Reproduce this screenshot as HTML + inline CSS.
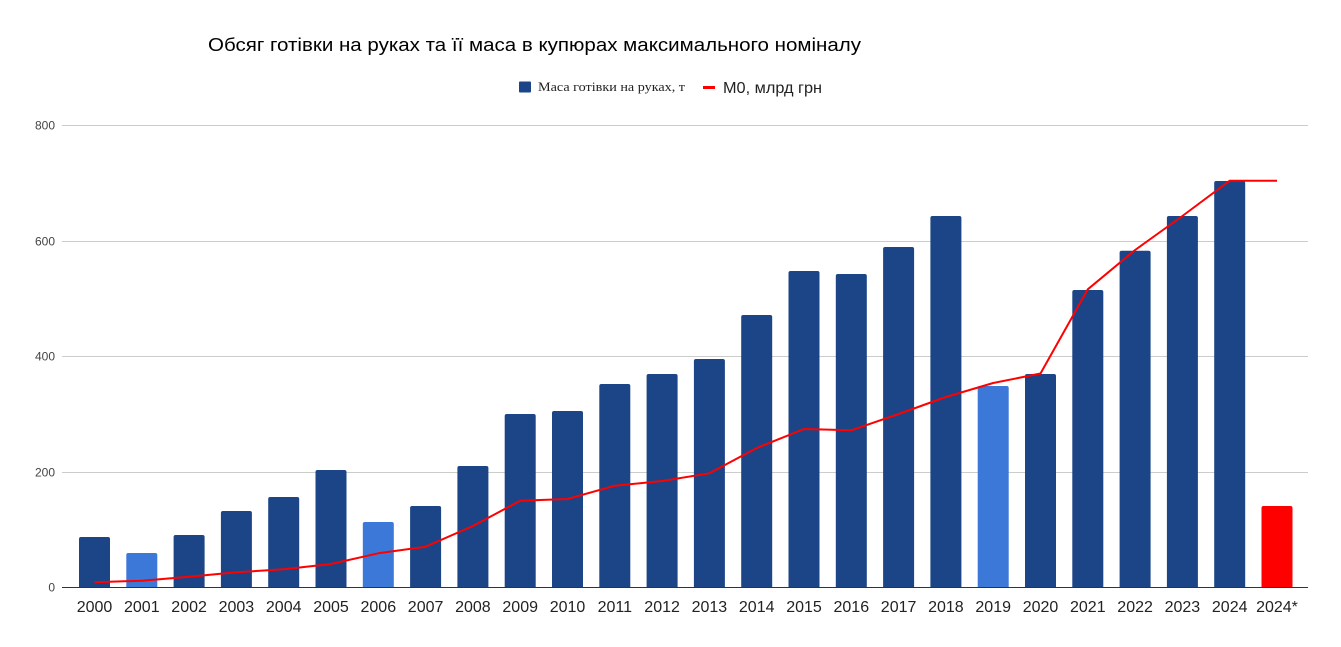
<!DOCTYPE html>
<html><head><meta charset="utf-8"><style>
html,body{margin:0;padding:0;background:#fff;}
svg{display:block;}
</style></head><body>
<svg width="1341" height="647" viewBox="0 0 1341 647" xmlns="http://www.w3.org/2000/svg">
<rect width="1341" height="647" fill="#fff"/>
<text x="208" y="51" font-family="Liberation Sans, sans-serif" font-size="18" fill="#000" textLength="653" lengthAdjust="spacingAndGlyphs">Обсяг готівки на руках та її маса в купюрах максимального номіналу</text>
<rect x="519" y="81.5" width="12" height="11" fill="#1c4587" rx="1"/>
<text x="538" y="91" font-family="Liberation Serif, serif" font-size="13" fill="#222" textLength="147" lengthAdjust="spacingAndGlyphs">Маса готівки на руках, т</text>
<rect x="703" y="86" width="12" height="3" fill="#ff0000"/>
<text x="723" y="93" font-family="Liberation Sans, sans-serif" font-size="16" fill="#222" textLength="99" lengthAdjust="spacingAndGlyphs">М0, млрд грн</text>
<g stroke="#cccccc" stroke-width="1">
<line x1="62" y1="125.5" x2="1308" y2="125.5"/>
<line x1="62" y1="241.5" x2="1308" y2="241.5"/>
<line x1="62" y1="356.5" x2="1308" y2="356.5"/>
<line x1="62" y1="472.5" x2="1308" y2="472.5"/>
</g>
<g font-family="Liberation Sans, sans-serif" font-size="12" fill="#444" text-anchor="end">
<text x="55" y="129.5">800</text>
<text x="55" y="245.5">600</text>
<text x="55" y="360.5">400</text>
<text x="55" y="476.5">200</text>
<text x="55" y="591.5">0</text>
</g>
<g id="bars"></g>
<line x1="62" y1="587.5" x2="1308" y2="587.5" stroke="#333" stroke-width="1"/>
<polyline id="m0" fill="none" stroke="#ff0000" stroke-width="2" stroke-linejoin="round" points=""/>
<g id="xl" font-family="Liberation Sans, sans-serif" font-size="16" fill="#222" text-anchor="middle"></g>
<script>
(function(){
var ns="http://www.w3.org/2000/svg";
var tops=[537,553,535,511,497,470,522,506,466,414,411,384,374,359,315,271,274,247,216,386,374,290,250.7,216,181,506];
var line=[582.3,580.7,576.7,572.3,569.3,564,553.3,546.7,526,500.7,499,485.7,481,473.3,448,429,430.3,414,397,383,373.5,289.3,250,216,180.7,180.7];
var labels=["2000","2001","2002","2003","2004","2005","2006","2007","2008","2009","2010","2011","2012","2013","2014","2015","2016","2017","2018","2019","2020","2021","2022","2023","2024","2024*"];
var g=document.getElementById("bars"),xl=document.getElementById("xl");
var pts=[];
for(var i=0;i<26;i++){
 var c=94.5+i*47.3, w=31, l=c-w/2, t=tops[i], b=587, r=2;
 var col="#1c4587"; if(i==1||i==6||i==19) col="#3c78d8"; if(i==25) col="#ff0000";
 var p=document.createElementNS(ns,"path");
 p.setAttribute("d","M"+l+","+b+"V"+(t+r)+"Q"+l+","+t+" "+(l+r)+","+t+"H"+(l+w-r)+"Q"+(l+w)+","+t+" "+(l+w)+","+(t+r)+"V"+b+"Z");
 p.setAttribute("fill",col);
 g.appendChild(p);
 pts.push(c.toFixed(1)+","+line[i]);
 var tx=document.createElementNS(ns,"text");
 tx.setAttribute("x",c.toFixed(1)); tx.setAttribute("y","612");
 tx.textContent=labels[i]; xl.appendChild(tx);
}
document.getElementById("m0").setAttribute("points",pts.join(" "));
})();
</script>
</svg>
</body></html>
